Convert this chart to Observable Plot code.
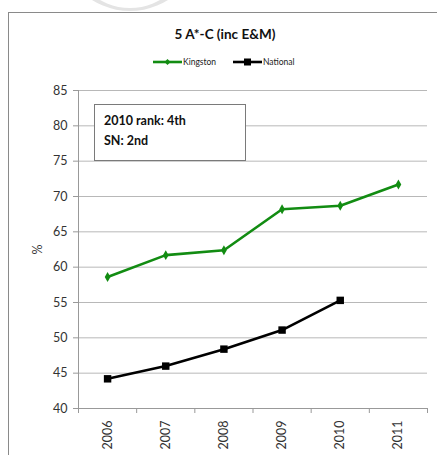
<!DOCTYPE html>
<html>
<head>
<meta charset="utf-8">
<script src="https://cdn.jsdelivr.net/npm/d3@7"></script>
<script src="https://cdn.jsdelivr.net/npm/@observablehq/plot@0.6"></script>
<style>
  html, body { margin: 0; padding: 0; background: #fff; }
  #wrap { position: relative; width: 437px; height: 455px; overflow: hidden; font-family: Lato, "Open Sans", sans-serif; }
  #wrap > svg.plot { position: absolute; left: 0; top: 0; }
  #frame { position: absolute; left: 8px; top: 12px; width: 440px; height: 460px; border-left: 1px solid #8a8a8a; border-top: 1px solid #8a8a8a; }
  #title { position: absolute; left: 0; width: 450px; top: 26px; text-align: center; font-weight: bold; font-size: 13.5px; color: #111; }
  #legend { position: absolute; left: 0; top: 54px; }
  #note { position: absolute; left: 94px; top: 104px; width: 152px; height: 57px; border: 1px solid #7a7a7a; background: #fff; box-sizing: border-box; padding: 6px 0 0 9px; font-weight: bold; font-size: 12.5px; line-height: 20px; color: #111; }
  #wm { position: absolute; left: 0; top: 0; }
</style>
</head>
<body>
<div id="wrap">
  <svg id="wm" width="437" height="30"><path fill="#e4e4e4" fill-rule="evenodd" d="M59,-60a71,71 0 1,0 142,0a71,71 0 1,0 -142,0Z M70,-52a60,60 0 1,0 120,0a60,60 0 1,0 -120,0Z"/></svg>
  <div id="frame"></div>
  <div id="title">5 A*-C (inc E&amp;M)</div>
  <svg id="legend" width="437" height="16"></svg>
  <div id="note">2010 rank: 4th<br>SN: 2nd</div>
</div>
<script>
const years = [2006, 2007, 2008, 2009, 2010, 2011];
const kingston = [58.6, 61.7, 62.4, 68.2, 68.7, 71.7];
const nationalYears = [2006, 2007, 2008, 2009, 2010];
const national = [44.2, 46.0, 48.4, 51.1, 55.3];
const yTicks = [40, 45, 50, 55, 60, 65, 70, 75, 80, 85];
const seriesNames = ["Kingston", "National"];
const seriesColors = ["#128c12", "#000000"];

const kData = years.map((y, i) => ({year: y, value: kingston[i]}));
const nData = nationalYears.map((y, i) => ({year: y, value: national[i]}));
const boundaries = years.map(y => y - 0.5).concat([years[years.length - 1] + 0.5]);

const chart = Plot.plot({
  width: 437,
  height: 455,
  marginLeft: 78,
  marginRight: 10,
  marginTop: 90,
  marginBottom: 47,
  style: {fontFamily: "Lato, 'Open Sans', sans-serif", background: "transparent", overflow: "visible"},
  x: {type: "linear", domain: [boundaries[0], boundaries[boundaries.length - 1]]},
  y: {domain: [40, 85]},
  marks: [
    Plot.gridY(yTicks.slice(1), {stroke: "#b8b8b8", strokeOpacity: 1, strokeWidth: 1}),
    Plot.axisY(yTicks, {tickSize: 5, tickPadding: 6, fontSize: 12.5, fill: "#333", stroke: "#999", label: "%", labelAnchor: "center", labelOffset: 45, labelArrow: "none"}),
    Plot.axisX(boundaries, {tickSize: 5, tickFormat: () => "", stroke: "#999", label: null}),
    Plot.axisX(years, {tickSize: 0, tickRotate: -90, tickPadding: 12, tickFormat: d => String(d), fontSize: 12.5, fill: "#333", label: null}),
    Plot.ruleY([40], {stroke: "#999"}),
    Plot.ruleX([boundaries[0]], {stroke: "#999"}),
    Plot.line(kData, {x: "year", y: "value", stroke: seriesColors[0], strokeWidth: 2.6}),
    Plot.dot(kData, {x: "year", y: "value", symbol: "diamond", r: 3, fill: seriesColors[0]}),
    Plot.line(nData, {x: "year", y: "value", stroke: seriesColors[1], strokeWidth: 2.6}),
    Plot.dot(nData, {x: "year", y: "value", symbol: "square", r: 4.2, fill: seriesColors[1]})
  ]
});
chart.classList.add("plot");
document.getElementById("wrap").insertBefore(chart, document.getElementById("frame").nextSibling);

// legend
const leg = d3.select("#legend");
const legendX = [153, 233];
seriesNames.forEach((name, i) => {
  const g = leg.append("g").attr("transform", `translate(${legendX[i]},8)`);
  g.append("line").attr("x1", 0).attr("x2", 29).attr("y1", 0).attr("y2", 0)
    .attr("stroke", seriesColors[i]).attr("stroke-width", 2.6);
  if (i === 0) {
    g.append("path").attr("d", "M14.5,-3L17.5,0L14.5,3L11.5,0Z").attr("fill", seriesColors[i]);
  } else {
    g.append("rect").attr("x", 11).attr("y", -3.5).attr("width", 7).attr("height", 7).attr("fill", seriesColors[i]);
  }
  g.append("text").attr("x", 30).attr("y", 3).attr("font-size", 8.5)
    .attr("font-family", "Lato, 'Open Sans', sans-serif").attr("fill", "#222").text(name);
});
</script>
</body>
</html>
